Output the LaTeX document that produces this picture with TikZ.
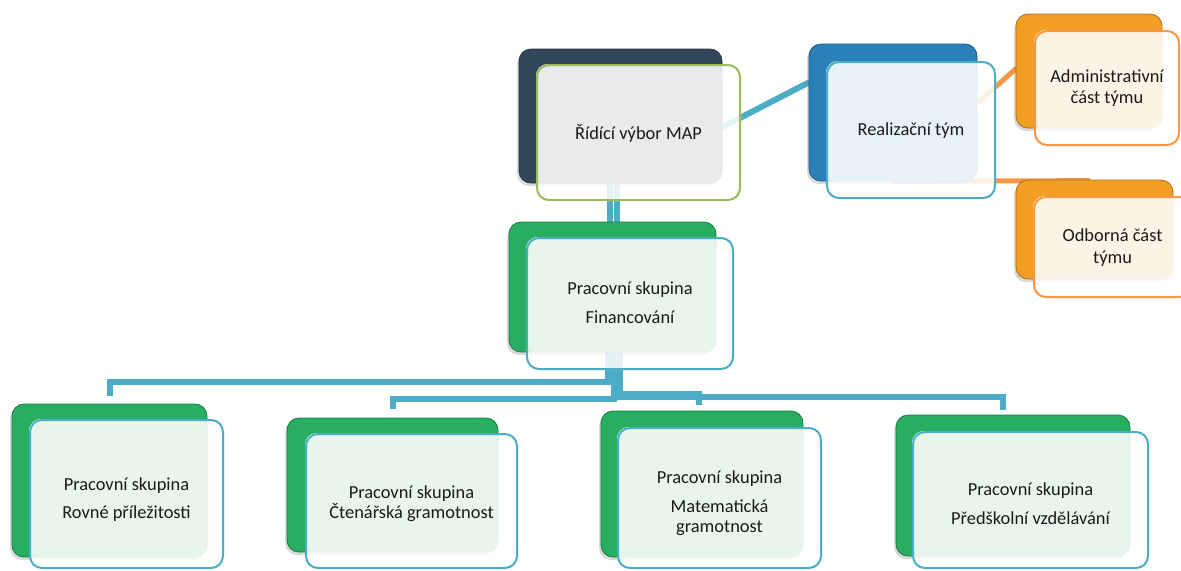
\documentclass[tikz,border=0pt]{standalone}
\usepackage{fontspec}
\setmainfont{Carlito}
\usetikzlibrary{fit,calc,shadows}
\definecolor{cdark}{HTML}{33475B}
\definecolor{cblue}{HTML}{2A80B9}
\definecolor{corange}{HTML}{F29E24}
\definecolor{cgreen}{HTML}{27AE60}
\definecolor{lgrey}{HTML}{E9EAEC}
\definecolor{lblue}{HTML}{E7F1F8}
\definecolor{lorange}{HTML}{FDF3E5}
\definecolor{lgreen}{HTML}{E8F5EC}
\definecolor{bolive}{HTML}{9BBB59}
\definecolor{bteal}{HTML}{4BACC6}
\definecolor{borange}{HTML}{F79646}
\definecolor{ctext}{HTML}{1A1A1A}
\pgfdeclarelayer{conns}
\pgfdeclarelayer{backs}
\pgfdeclarelayer{fills}
\pgfsetlayers{conns,backs,fills,main}
\tikzset{
  backbox/.style={rectangle, rounded corners=6pt, inner sep=0pt, fill=#1,
    draw=#1!70!black, line width=0.4pt,
    drop shadow={shadow xshift=-1pt, shadow yshift=-1.5pt, opacity=0.3}},
  frontbox/.style={rectangle, rounded corners=6pt, inner sep=0pt, draw=#1,
    line width=1pt},
  txt/.style={inner sep=0pt, align=center, text=ctext,
    font=\fontsize{9.2pt}{11pt}\selectfont},
  conn/.style={line width=3pt, color=bteal},
  oconn/.style={line width=2.5pt, color=borange},
}
\newcommand\mkfill[3]{%
  \fill[white, opacity=0.85, rounded corners=6pt] (#1.north west) rectangle (#1.south east);
  \fill[#3, rounded corners=6pt] (#1.north west) rectangle (#2.south east);
}
\begin{document}
\begin{tikzpicture}[x=0.5pt, y=-0.5pt]
\useasboundingbox (0,0) rectangle (1181,570);
\clip (0,0) rectangle (1181,570);

% back boxes
\begin{pgfonlayer}{backs}
\node[backbox=cdark, fit={(519,49) (722,183)}] (rB) {};
\node[backbox=cblue, fit={(809,44) (977,181)}] (zB) {};
\node[backbox=corange, fit={(1016,14) (1162,128)}] (aB) {};
\node[backbox=corange, fit={(1016,180) (1173,279)}] (oB) {};
\node[backbox=cgreen, fit={(509,222) (716,352)}] (fB) {};
\node[backbox=cgreen, fit={(12,404) (207,557)}] (vB) {};
\node[backbox=cgreen, fit={(287,418) (498,552)}] (cB) {};
\node[backbox=cgreen, fit={(601,411) (803,557)}] (mB) {};
\node[backbox=cgreen, fit={(896,415) (1130,556)}] (pB) {};
\end{pgfonlayer}

% front boxes
\node[frontbox=bolive, fit={(537,65) (740,200)}] (rF) {};
\node[frontbox=bteal, fit={(827,62) (995,198)}] (zF) {};
\node[frontbox=borange, fit={(1035,31) (1179,145)}] (aF) {};
\node[frontbox=borange, fit={(1034,197) (1191,297)}] (oF) {};
\node[frontbox=bteal, fit={(527,238) (733,369)}] (fF) {};
\node[frontbox=bteal, fit={(30,420) (223,568)}] (vF) {};
\node[frontbox=bteal, fit={(306,434) (517,568)}] (cF) {};
\node[frontbox=bteal, fit={(618,428) (821,568)}] (mF) {};
\node[frontbox=bteal, fit={(913,432) (1148,568)}] (pF) {};

% texts
\node[txt] (rT) at ($(rF.center)+(0,1)$) {Řídící výbor MAP};
\node[txt] (zT) at ($(zF.center)+(0,0.5)$) {Realizační tým};
\node[txt] (aT) at ($(aF.center)+(0,0.5)$) {Administrativní\\[-0.5pt]část týmu};
\node[txt] (oT) at ($(oF.center)+(0,0.5)$) {Odborná část\\[0pt]týmu};
\node[txt] (fT) at ($(fF.center)+(0,-0.5)$) {Pracovní skupina\\[3.5pt]Financování};
\node[txt] (vT) at ($(vF.center)+(0,6)$) {Pracovní skupina\\[3pt]Rovné příležitosti};
\node[txt] (cT) at ($(cF.center)+(0,2.5)$) {Pracovní skupina\\[-1pt]Čtenářská gramotnost};
\node[txt] (mT) at ($(mF.center)+(0,5)$) {Pracovní skupina\\[3.5pt]Matematická\\[-1pt]gramotnost};
\node[txt] (pT) at ($(pF.center)+(0,3.5)$) {Pracovní skupina\\[3.5pt]Předškolní vzdělávání};

% fills of the front boxes
\begin{pgfonlayer}{fills}
\mkfill{rF}{rB}{lgrey}
\mkfill{zF}{zB}{lblue}
\mkfill{aF}{aB}{lorange}
\mkfill{oF}{oB}{lorange}
\mkfill{fF}{fB}{lgreen}
\mkfill{vF}{vB}{lgreen}
\mkfill{cF}{cB}{lgreen}
\mkfill{mF}{mB}{lgreen}
\mkfill{pF}{pB}{lgreen}
\end{pgfonlayer}

% connectors
\begin{pgfonlayer}{conns}
\draw[conn] ($(rB.south)+(-10.5,0)$) -- ($(fB.north)+(-2.5,0)$);
\draw[conn] ($(rB.south)+(-3.5,0)$) -- ($(fB.north)+(4.5,0)$);
\draw[conn] ($(rB.east)+(0,11)$) -- ($(zB.west)+(1,-30.5)$);
\draw[oconn] ($(zB.east)+(0,-9.5)$) -- ($(aB.west)+(1,-3)$);
\draw[oconn] (zB.south) -- ($(oB.north)+(-4.5,1)$);
\draw[conn] ($(fB.south)+(-4.5,0)$) |- ($(vB.north)+(0,-22)$) -- ($(vB.north)+(0,-8)$);
\draw[conn] ($(fB.south)+(1.5,0)$) |- ($(cB.north)+(0,-19)$) -- ($(cB.north)+(0,-9)$);
\draw[conn] ($(fB.south)+(7.5,0)$) |- ($(mB.north)+(-3,-17)$) -- ($(mB.north)+(-3,-6)$);
\draw[conn] ($(fB.south)+(7.5,0)$) |- ($(pB.north)+(-10,-18)$) -- ($(pB.north)+(-10,-5)$);
\end{pgfonlayer}
\end{tikzpicture}
\end{document}
